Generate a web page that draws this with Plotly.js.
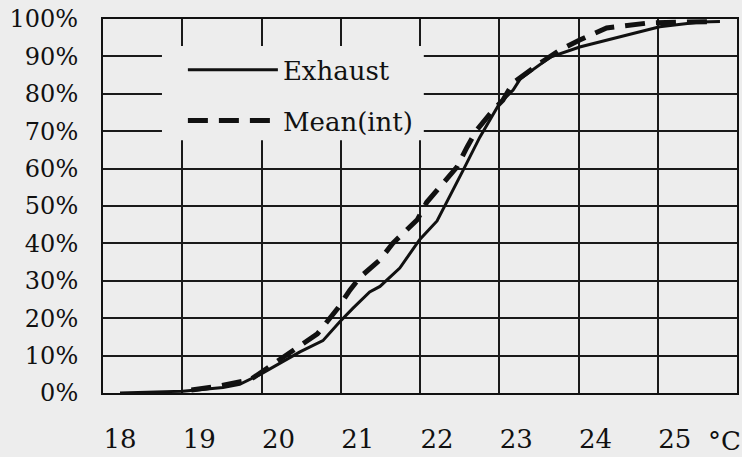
<!DOCTYPE html>
<html>
<head>
<meta charset="utf-8">
<script src="https://cdn.plot.ly/plotly-3.0.1.min.js"></script>
<style>html,body{margin:0;padding:0;background:#ededed;}#chart{width:742px;height:457px;}</style>
</head>
<body>
<div id="chart"></div>
<script>
// Temperature (°C) and cumulative share (%)
var exhaustT = [18.0, 18.79, 19.3, 19.51, 19.77, 20.02, 20.27, 20.56, 20.77, 20.94, 21.15, 21.28, 21.53, 21.78, 22.0, 22.33, 22.54, 22.79, 22.96, 23.05, 23.43, 23.8, 24.31, 24.81, 25.32, 25.57];
var exhaustP = [0, 0.5, 1.5, 2.3, 5, 8, 11, 14, 19, 22.7, 27, 28.5, 33.4, 41, 46, 59.6, 68.4, 77.5, 81, 84, 89.8, 92.5, 95.2, 97.9, 99.2, 99.3];
var meanT = [18.9, 19.26, 19.64, 20.14, 20.49, 20.75, 20.9, 21.03, 21.28, 21.44, 21.75, 21.87, 22.04, 22.25, 22.38, 22.5, 22.71, 22.83, 22.96, 23.14, 23.3, 23.55, 23.8, 24.14, 24.65, 25.07, 25.53];
var meanP = [0.8, 1.9, 3.5, 10.7, 15.8, 22.7, 27.5, 31, 35.6, 40, 46.3, 51, 55, 60.4, 65.8, 70.3, 75.7, 78.3, 82.9, 85.8, 88.2, 91.7, 94.4, 97.6, 98.9, 99.2, 99.3];
var xTicks = [18, 19, 20, 21, 22, 23, 24, 25];
var xTickText = ['18', '19', '20', '21', '22', '23', '24', '25'];
var yTicks = [0, 10, 20, 30, 40, 50, 60, 70, 80, 90, 100];
var yTickText = ['0%', '10%', '20%', '30%', '40%', '50%', '60%', '70%', '80%', '90%', '100%'];
var seriesNames = ['Exhaust', 'Mean(int)'];

var bg = '#ededed';
var serif = 'DejaVu Serif';

var traces = [
  {x: exhaustT, y: exhaustP, name: seriesNames[0], legendgroup: 'a', type: 'scatter', mode: 'lines',
   line: {color: '#111', width: 3}},
  {x: meanT, y: meanP, name: seriesNames[1], legendgroup: 'b', type: 'scatter', mode: 'lines',
   line: {color: '#111', width: 5, dash: '20px,11px'}}
];

var layout = {
  width: 742, height: 457,
  paper_bgcolor: bg, plot_bgcolor: bg,
  margin: {l: 103, r: 5, t: 19, b: 64},
  font: {family: serif, color: '#111'},
  showlegend: true,
  legend: {x: 0.126, y: 0.927, xanchor: 'left', yanchor: 'top',
           bgcolor: 'rgba(0,0,0,0)', borderwidth: 0, font: {family: serif, size: 26, color: '#111'},
           itemwidth: 90, tracegroupgap: 14},
  xaxis: {range: [17.785, 25.785], tickmode: 'array', tickvals: xTicks, ticktext: xTickText,
          showgrid: false, zeroline: false, ticks: '', ticklabelstandoff: 22,
          tickfont: {family: serif, size: 26, color: '#111'},
          showline: true, mirror: true, linecolor: '#111', linewidth: 2,
          minor: {tick0: 17.785, dtick: 1, showgrid: true, gridcolor: '#1a1a1a', gridwidth: 2, ticks: ''}},
  yaxis: {range: [0, 100], tickmode: 'array', tickvals: yTicks, ticktext: yTickText,
          showgrid: true, gridcolor: '#1a1a1a', gridwidth: 2, zeroline: false, ticks: '',
          ticklabelstandoff: 18,
          tickfont: {family: serif, size: 24, color: '#111'},
          showline: true, mirror: true, linecolor: '#111', linewidth: 2},
  shapes: [
    {type: 'rect', xref: 'paper', yref: 'paper', x0: 0.093, x1: 0.506, y0: 0.676, y1: 0.928,
     fillcolor: bg, line: {width: 0}, layer: 'above'}
  ],
  annotations: [
    {xref: 'paper', yref: 'paper', x: 0.98, y: 0, yshift: -48, text: '°C', showarrow: false,
     xanchor: 'center', yanchor: 'middle', font: {family: serif, size: 26, color: '#111'}}
  ]
};

Plotly.newPlot('chart', traces, layout, {displayModeBar: false, staticPlot: true});
</script>
</body>
</html>
